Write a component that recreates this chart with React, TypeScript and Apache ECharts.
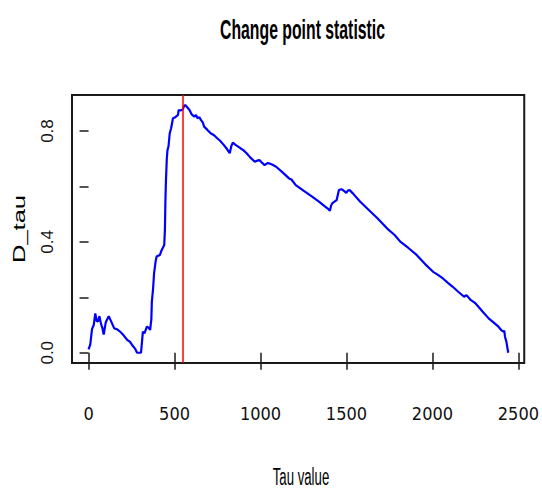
import React, { useEffect, useRef } from "react";
import * as echarts from "echarts";

const tauValues = [
  0, 10, 20, 30, 39, 47, 54, 63, 72, 80, 88, 100, 117, 130, 149, 165, 187, 205, 225, 240,
  253, 270, 282, 295, 305, 316, 325, 339, 350, 358, 365, 368, 375, 381, 390, 396, 405, 415,
  425, 440, 444, 447, 450, 455, 459, 465, 472, 480, 491, 505, 520, 524, 535, 548, 555, 562,
  575, 587, 600, 615, 625, 634, 645, 653, 665, 672, 690, 710, 730, 748, 765, 786, 805, 821,
  830, 839, 855, 872, 885, 900, 919, 940, 967, 980, 995, 1010, 1024, 1040, 1052, 1070, 1091,
  1130, 1166, 1180, 1205, 1250, 1300, 1340, 1376, 1395, 1404, 1410, 1417, 1430, 1443, 1456,
  1470, 1480, 1499, 1508, 1518, 1537, 1580, 1630, 1680, 1737, 1780, 1813, 1860, 1908, 1960,
  2004, 2030, 2061, 2090, 2118, 2150, 2184, 2198, 2220, 2251, 2290, 2327, 2360, 2384, 2400,
  2413, 2418, 2422, 2430, 2441,
];
const dTauValues = [
  0.012, 0.03, 0.085, 0.1, 0.142, 0.115, 0.112, 0.132, 0.105, 0.09, 0.066, 0.11, 0.132, 0.115,
  0.088, 0.085, 0.074, 0.062, 0.046, 0.04, 0.028, 0.015, 0.0, 0.0, 0.0, 0.076, 0.07, 0.094,
  0.09, 0.082, 0.12, 0.184, 0.23, 0.287, 0.33, 0.347, 0.35, 0.353, 0.37, 0.389, 0.443, 0.551,
  0.62, 0.7, 0.731, 0.745, 0.792, 0.81, 0.846, 0.85, 0.858, 0.876, 0.874, 0.878, 0.89, 0.894,
  0.885, 0.876, 0.86, 0.852, 0.858, 0.846, 0.85, 0.84, 0.83, 0.816, 0.805, 0.792, 0.785, 0.774,
  0.765, 0.75, 0.735, 0.72, 0.745, 0.758, 0.75, 0.743, 0.737, 0.731, 0.72, 0.705, 0.689, 0.693,
  0.695, 0.685, 0.677, 0.684, 0.683, 0.678, 0.671, 0.65, 0.629, 0.625, 0.605, 0.585, 0.563,
  0.545, 0.527, 0.518, 0.512, 0.53, 0.539, 0.545, 0.551, 0.587, 0.59, 0.587, 0.577, 0.585,
  0.587, 0.575, 0.545, 0.515, 0.485, 0.448, 0.425, 0.401, 0.378, 0.353, 0.318, 0.292, 0.282,
  0.268, 0.252, 0.238, 0.22, 0.202, 0.208, 0.192, 0.178, 0.15, 0.124, 0.107, 0.094, 0.082,
  0.076, 0.08, 0.058, 0.04, 0.0,
];
const xTickValues = [0, 500, 1000, 1500, 2000, 2500];
const yTickValues = [0, 0.2, 0.4, 0.6, 0.8];
const yLabelValues = [0, 0.4, 0.8];
const changePoint = 550;
const titleText = "Change point statistic";
const xAxisTitle = "Tau value";
const yAxisTitle = "D_tau";

export default function App() {
  const ref = useRef<HTMLDivElement>(null);
  useEffect(() => {
    const chart = echarts.init(ref.current!, null, { renderer: "svg" });
    const data = tauValues.map((t, i) => [t, dTauValues[i]]);
    const ink = "#1a1a1a";
    const font = "'Liberation Sans', Arial, sans-serif";
    chart.setOption({
      animation: false,
      backgroundColor: "#ffffff",
      grid: {
        left: 72,
        right: 9,
        top: 95,
        bottom: 128,
        show: true,
        borderColor: ink,
        borderWidth: 2,
        backgroundColor: "transparent",
      },
      xAxis: {
        type: "value",
        min: -96.4,
        max: 2534,
        splitLine: { show: false },
        axisLine: { show: false },
        axisTick: {
          show: true,
          length: 17,
          customValues: xTickValues,
          lineStyle: { color: ink, width: 1.5 },
        },
        axisLabel: {
          customValues: xTickValues,
          margin: 41,
          fontSize: 18,
          fontFamily: "'DejaVu Sans Condensed', 'Liberation Sans', sans-serif",
          color: "#111",
          formatter: (v: number) => String(v),
        },
      },
      yAxis: {
        type: "value",
        min: -0.037,
        max: 0.93,
        splitLine: { show: false },
        axisLine: { show: false },
        axisTick: {
          show: true,
          length: 9,
          customValues: yTickValues,
          lineStyle: { color: ink, width: 1.5 },
        },
        axisLabel: {
          customValues: yLabelValues,
          rotate: 90,
          margin: 16,
          fontSize: 17,
          fontFamily: font,
          color: "#111",
          formatter: (v: number) => v.toFixed(1),
        },
      },
      graphic: [
        {
          type: "text",
          x: 302.5,
          y: 29,
          scaleY: 1.77,
          style: {
            text: titleText,
            fontSize: 15.8,
            fontWeight: "bold",
            fontFamily: font,
            fill: "#000",
            align: "center",
            verticalAlign: "middle",
          },
        },
        {
          type: "text",
          x: 301,
          y: 477,
          scaleY: 1.8,
          style: {
            text: xAxisTitle,
            fontSize: 13.2,
            fontFamily: font,
            fill: "#000",
            align: "center",
            verticalAlign: "middle",
          },
        },
        {
          type: "text",
          x: 19,
          y: 229,
          rotation: Math.PI / 2,
          scaleX: 1.5,
          style: {
            text: yAxisTitle,
            fontSize: 17,
            fontFamily: font,
            fill: "#000",
            align: "center",
            verticalAlign: "middle",
          },
        },
      ],
      series: [
        {
          type: "line",
          data,
          showSymbol: false,
          symbol: "none",
          lineStyle: { color: "#0000ff", width: 2.2 },
          itemStyle: { color: "#0000ff" },
          markLine: {
            silent: true,
            symbol: ["none", "none"],
            label: { show: false },
            lineStyle: { color: "#ff0000", width: 1.5, type: "solid" },
            data: [{ xAxis: changePoint }],
          },
        },
      ],
    });
    return () => chart.dispose();
  }, []);
  return (
    <div
      ref={ref}
      style={{ position: "fixed", left: 0, top: 0, width: 542, height: 491, background: "#fff" }}
    />
  );
}
